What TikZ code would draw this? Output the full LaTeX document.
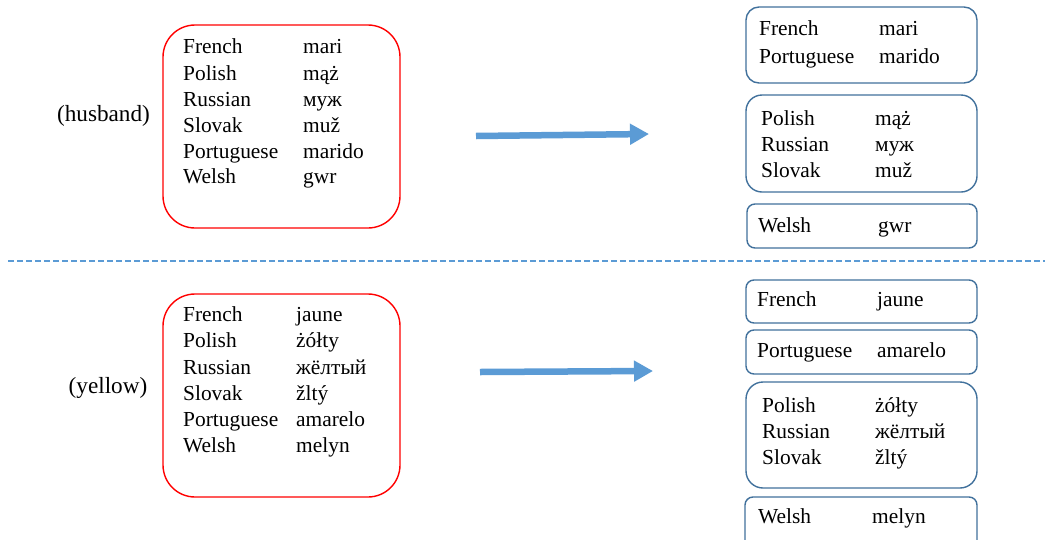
\documentclass[tikz,border=0pt]{standalone}
\usepackage{fontspec}
\setmainfont{Liberation Serif}
\usetikzlibrary{arrows.meta}
\definecolor{boxred}{HTML}{FF0000}
\definecolor{boxblue}{HTML}{41719C}
\definecolor{arrowblue}{HTML}{5B9BD5}
\tikzset{
  wbox/.style={draw, line width=1.4pt, inner sep=0pt, outer sep=0pt},
  word/.style={font=\fontsize{21.4}{26}\selectfont, inner sep=0pt, anchor=base west},
  meaning/.style={font=\fontsize{23.2}{28}\selectfont, inner sep=0pt, anchor=base},
  bigarrow/.style={arrowblue, line width=6.5pt, -{Triangle[length=19pt,width=20pt]}},
  sepline/.style={arrowblue, line width=1.3pt, dash pattern=on 6pt off 3pt}
}
% box: name, left, top, right, bottom, corner, colour
\newcommand{\wbox}[7]{%
  \node[wbox, draw=#7, rounded corners=#6pt,
        minimum width={#4-#2}, minimum height={#5-#3}]
    (#1) at ({(#2+#4)/2},{(#3+#5)/2}) {};}
% rows: name, first column, second column, baseline/language/word
\newcommand{\wrows}[4]{%
  \foreach \b/\lang/\trans [count=\i] in {#4}{
    \node[word] (#1-l\i) at (#2,\b) {\lang};
    \node[word] (#1-w\i) at (#3,\b) {\trans};}}

\begin{document}
\begin{tikzpicture}[x=1pt, y=-1pt]
  \clip (0,0) rectangle (1045,539);
  \fill[white] (0,0) rectangle (1045,539);

  % husband
  \node[meaning] (husband) at (103.5,121) {(husband)};
  \wbox{hl}{163}{25}{400}{228}{32}{boxred}
  \wrows{hl}{183}{303}{53/French/mari, 80/Polish/mąż, 106/Russian/муж,
    132/Slovak/muž, 158/Portuguese/marido, 183/Welsh/gwr}
  \coordinate (h-tail) at (476,136);
  \coordinate (h-tip) at (649,134);
  \draw[bigarrow] (h-tail) -- (h-tip);
  \wbox{hr1}{746}{7}{977}{83}{13}{boxblue}
  \wrows{hr1}{759}{879}{35/French/mari, 63/Portuguese/marido}
  \wbox{hr2}{746}{95}{977}{192}{16}{boxblue}
  \wrows{hr2}{761}{875}{125/Polish/mąż, 151/Russian/муж, 177/Slovak/muž}
  \wbox{hr3}{747}{204}{977}{248}{8}{boxblue}
  \wrows{hr3}{758}{878}{232/Welsh/gwr}

  \coordinate (sep-l) at (8,261);
  \coordinate (sep-r) at (1045,261);
  \draw[sepline] (sep-l) -- (sep-r);

  % yellow
  \node[meaning] (yellow) at (108,393) {(yellow)};
  \wbox{yl}{163}{294}{400}{497}{32}{boxred}
  \wrows{yl}{183}{296}{321/French/jaune, 347/Polish/żółty, 374/Russian/жёлтый,
    400/Slovak/žltý, 426/Portuguese/amarelo, 452/Welsh/melyn}
  \coordinate (y-tail) at (480,372);
  \coordinate (y-tip) at (653,371);
  \draw[bigarrow] (y-tail) -- (y-tip);
  \wbox{yr1}{746}{280}{977}{323}{8}{boxblue}
  \wrows{yr1}{757}{877}{306/French/jaune}
  \wbox{yr2}{746}{330}{977}{374}{8}{boxblue}
  \wrows{yr2}{757}{877}{357/Portuguese/amarelo}
  \wbox{yr3}{746}{382}{977}{488}{17}{boxblue}
  \wrows{yr3}{762}{875}{412/Polish/żółty, 438/Russian/жёлтый, 464/Slovak/žltý}
  \wbox{yr4}{745}{497}{977}{560}{8}{boxblue}
  \wrows{yr4}{758}{872}{523/Welsh/melyn}
\end{tikzpicture}
\end{document}
